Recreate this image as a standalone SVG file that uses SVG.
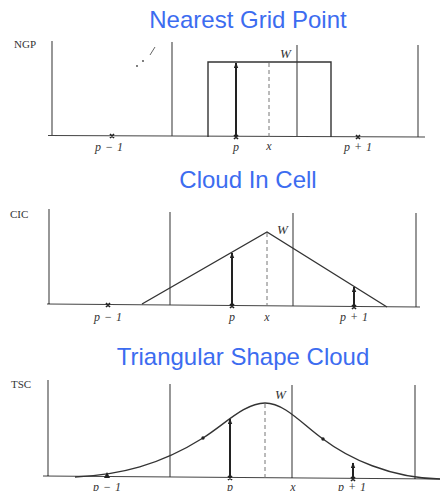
<svg xmlns="http://www.w3.org/2000/svg" width="440" height="491" viewBox="0 0 440 491">
<defs>
<marker id="ah" viewBox="0 0 10 8" refX="9" refY="4" markerWidth="6" markerHeight="5" markerUnits="userSpaceOnUse" orient="auto">
<path d="M0,0 L10,4 L0,8 Z" fill="#222"/>
</marker>
<style>
.title{font-family:"Liberation Sans",Arial,sans-serif;font-size:24px;fill:#3c6cf0;text-anchor:middle}
.tag{font-family:"Liberation Serif","Times New Roman",serif;font-size:11px;fill:#333}
.lab{font-family:"Liberation Serif","Times New Roman",serif;font-style:italic;font-size:12px;fill:#333;text-anchor:middle;word-spacing:1px}
.w{font-family:"Liberation Serif","Times New Roman",serif;font-style:italic;font-size:13px;fill:#333}
.ax{stroke:#444;stroke-width:1.1;fill:none}
.wf{stroke:#333;stroke-width:1.4;fill:none}
.dash{stroke:#777;stroke-width:1;stroke-dasharray:4,3;fill:none}
.arr{stroke:#222;stroke-width:2;fill:none}
.xm{stroke:#222;stroke-width:1.6;fill:none}
</style>
</defs>
<rect width="440" height="491" fill="#fff"/>

<g id="ngp">
<text class="title" x="248" y="28">Nearest Grid Point</text>
<text class="tag" x="14" y="48">NGP</text>
<path class="ax" d="M52,41 V135.5 M172,42 V136 M297,45 V136.5 M418,45 V137 M48,135.5 L425,137"/>
<path class="wf" d="M208,137 V62 H331 V137"/>
<path class="dash" d="M269,63 V137"/>
<path class="arr" d="M236,136 V63" marker-end="url(#ah)"/>
<path class="xm" d="M110,134 l4,4 m0,-4 l-4,4 M234,135 l4,4 m0,-4 l-4,4 M356,135 l4,4 m0,-4 l-4,4"/>
<text class="w" x="280" y="58">W</text>
<text class="lab" x="109" y="151">p − 1</text>
<text class="lab" x="236" y="151">p</text>
<text class="lab" x="269" y="150">x</text>
<text class="lab" x="358" y="151">p + 1</text>
<path d="M150,55 L155,47" stroke="#666" stroke-width="1"/>
<circle cx="143" cy="61" r="0.9" fill="#444"/>
<circle cx="137" cy="66" r="0.9" fill="#444"/>
</g>

<g id="cic">
<text class="title" x="248" y="188">Cloud In Cell</text>
<text class="tag" x="10" y="218">CIC</text>
<path class="ax" d="M49,209 V304.5 M170,212 V305 M293,213 V306 M416,213 V307 M47,304 L420,307"/>
<path class="wf" d="M142,304 L267,232 L387,307"/>
<path class="dash" d="M267,233 V306"/>
<path class="arr" d="M232,305 V253" marker-end="url(#ah)"/>
<path class="arr" d="M354,306 V287" marker-end="url(#ah)"/>
<path class="xm" d="M106,303 l4,4 m0,-4 l-4,4 M230,304 l4,4 m0,-4 l-4,4 M352,305 l4,4 m0,-4 l-4,4"/>
<text class="w" x="277" y="234">W</text>
<text class="lab" x="108" y="321">p − 1</text>
<text class="lab" x="232" y="321">p</text>
<text class="lab" x="267" y="321">x</text>
<text class="lab" x="354" y="321">p + 1</text>
</g>

<g id="tsc">
<text class="title" x="243" y="365">Triangular Shape Cloud</text>
<text class="tag" x="11" y="388">TSC</text>
<path class="ax" d="M48,380 V476.5 M170,384 V477 M292,385 V478 M415,385 V479 M43,476 L440,479"/>
<path class="wf" d="M75,477 C120,475 160,465 203,438 C225,424 245,403 265,403 C285,403 303,425 323,439 C348,458 390,478 440,479"/>
<path class="dash" d="M265,404 V478"/>
<circle cx="203" cy="438" r="1.7" fill="#222"/>
<circle cx="323" cy="439" r="1.7" fill="#222"/>
<path class="arr" d="M230,477 V419" marker-end="url(#ah)"/>
<path class="arr" d="M353,478 V463" marker-end="url(#ah)"/>
<path d="M107,472 L110,478 L104,478 Z" fill="#222"/>
<path class="xm" d="M228,476 l4,4 m0,-4 l-4,4 M351,477 l4,4 m0,-4 l-4,4"/>
<text class="w" x="275" y="399">W</text>
<text class="lab" x="107" y="491">p − 1</text>
<text class="lab" x="230" y="491">p</text>
<text class="lab" x="293" y="491">x</text>
<text class="lab" x="352" y="491">p + 1</text>
</g>
</svg>
